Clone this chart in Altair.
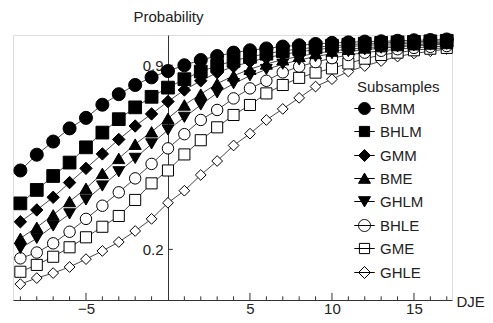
import altair as alt
import pandas as pd

x_vals = list(range(-9, 18))
series_names = ["BMM", "BHLM", "GMM", "BME", "GHLM", "BHLE", "GME", "GHLE"]

bmm = [0.50, 0.56, 0.61, 0.66, 0.70, 0.75, 0.79, 0.825, 0.854, 0.878, 0.90, 0.92, 0.935, 0.948,
       0.957, 0.964, 0.971, 0.976, 0.981, 0.985, 0.987, 0.99, 0.991, 0.993, 0.995, 0.996, 0.998]
bhlm = [0.375, 0.426, 0.479, 0.53, 0.588, 0.644, 0.695, 0.74, 0.78, 0.815, 0.847, 0.876, 0.898, 0.917,
        0.932, 0.944, 0.954, 0.962, 0.968, 0.974, 0.978, 0.982, 0.985, 0.987, 0.989, 0.991, 0.993]
gmm = [0.305, 0.35, 0.398, 0.454, 0.508, 0.563, 0.618, 0.669, 0.715, 0.762, 0.806, 0.841, 0.872, 0.895,
       0.913, 0.928, 0.941, 0.951, 0.959, 0.966, 0.971, 0.975, 0.979, 0.982, 0.984, 0.986, 0.988]
bme = [0.242, 0.284, 0.331, 0.382, 0.432, 0.489, 0.546, 0.60, 0.647, 0.698, 0.749, 0.79, 0.83, 0.86,
       0.885, 0.905, 0.921, 0.934, 0.945, 0.954, 0.961, 0.966, 0.971, 0.975, 0.978, 0.981, 0.983]
ghlm = [0.204, 0.242, 0.289, 0.335, 0.388, 0.441, 0.495, 0.546, 0.601, 0.654, 0.702, 0.749, 0.795, 0.83,
        0.86, 0.884, 0.904, 0.92, 0.933, 0.944, 0.952, 0.959, 0.965, 0.97, 0.974, 0.977, 0.98]
bhle = [0.166, 0.188, 0.223, 0.267, 0.316, 0.366, 0.417, 0.47, 0.525, 0.584, 0.638, 0.692, 0.73, 0.774,
        0.812, 0.841, 0.873, 0.895, 0.912, 0.927, 0.939, 0.948, 0.955, 0.961, 0.966, 0.97, 0.973]
gme = [0.115, 0.141, 0.172, 0.208, 0.246, 0.286, 0.327, 0.388, 0.451, 0.50, 0.561, 0.615, 0.664, 0.711,
       0.749, 0.793, 0.825, 0.852, 0.872, 0.888, 0.907, 0.925, 0.939, 0.948, 0.957, 0.963, 0.966]
ghle = [0.068, 0.091, 0.110, 0.133, 0.163, 0.194, 0.228, 0.27, 0.316, 0.377, 0.423, 0.483, 0.536, 0.595,
        0.64, 0.692, 0.734, 0.776, 0.819, 0.847, 0.876, 0.897, 0.916, 0.933, 0.945, 0.953, 0.962]

all_series = [bmm, bhlm, gmm, bme, ghlm, bhle, gme, ghle]

plot_shapes = ["circle", "square", "diamond", "triangle-up", "triangle-down", "circle", "square", "diamond"]
fills = ["#000000"] * 5 + ["#ffffff"] * 3
strokes = ["#000000"] * 8
sizes = [170, 115, 150, 130, 130, 140, 100, 75]

legend_shapes = [
    "M-1.7,0H1.7M1,0A1,1,0,1,1,-1,0A1,1,0,1,1,1,0Z",
    "M-1.7,0H1.7M-0.85,-0.85H0.85V0.85H-0.85Z",
    "M-1.7,0H1.7M0,-1L1,0L0,1L-1,0Z",
    "M-1.7,0H1.7M0,-0.9L1,0.8L-1,0.8Z",
    "M-1.7,0H1.7M0,0.9L1,-0.8L-1,-0.8Z",
    "M-1.7,0H1.7M1,0A1,1,0,1,1,-1,0A1,1,0,1,1,1,0Z",
    "M-1.7,0H1.7M-0.85,-0.85H0.85V0.85H-0.85Z",
    "M-1.7,0H1.7M0,-1L1,0L0,1L-1,0Z",
]

x_minor_ticks = [v for v in range(-9, 18) if v % 5 != 0]
x_major_ticks = [-5, 5, 10, 15]
y_ticks = [0.2, 0.9]

rows = []
for name, vals in zip(series_names, all_series):
    for x, v in zip(x_vals, vals):
        rows.append({"DJE": x, "Probability": v, "Subsamples": name})
df = pd.DataFrame(rows)
df_points = pd.concat([df[df.Subsamples == n] for n in reversed(series_names)])

FONT = "Liberation Sans"
TXT = "#222222"
AX = "#333333"

Y_MIN = 0.0076
xscale = alt.Scale(domain=[-9.45, 17.32], nice=False, zero=False)
yscale = alt.Scale(domain=[Y_MIN, 1.015], nice=False, zero=False)

xaxis = alt.Axis(orient="bottom", values=x_major_ticks, ticks=False, tickSize=0, grid=False,
                 labelPadding=1, labelFontSize=15, labelFont=FONT, labelColor=TXT,
                 domainColor=AX, domainWidth=1,
                 title="DJE", titleFont=FONT, titleFontSize=15, titleFontWeight="normal",
                 titleColor=TXT, titleX=443, titleY=1, titleAlign="left", titleBaseline="middle")
yaxis = alt.Axis(orient="left", offset=-155, values=y_ticks, ticks=False, tickSize=0, grid=False,
                 format=".1f", labelPadding=5, labelFontSize=15, labelFont=FONT, labelColor=TXT,
                 domainColor=AX, domainWidth=1,
                 title="Probability", titleFont=FONT, titleFontSize=15, titleFontWeight="normal",
                 titleColor=TXT, titleAngle=0, titleX=0, titleY=-19, titleAlign="center",
                 titleBaseline="middle")

lines = alt.Chart(df).mark_line(color="#333333", strokeWidth=0.9).encode(
    x=alt.X("DJE:Q", scale=xscale, axis=xaxis),
    y=alt.Y("Probability:Q", scale=yscale, axis=yaxis),
    detail="Subsamples:N",
)

points = alt.Chart(df_points).mark_point(filled=True, stroke="#000000", strokeWidth=1, opacity=1).encode(
    x=alt.X("DJE:Q", scale=xscale),
    y=alt.Y("Probability:Q", scale=yscale),
    shape=alt.Shape("Subsamples:N", scale=alt.Scale(domain=series_names, range=plot_shapes), legend=None),
    fill=alt.Fill("Subsamples:N", scale=alt.Scale(domain=series_names, range=fills), legend=None),
    size=alt.Size("Subsamples:N", scale=alt.Scale(domain=series_names, range=sizes), legend=None),
)


def make_legend():
    return alt.Legend(
        title="Subsamples", orient="none", legendX=344, legendY=45,
        titleFont=FONT, titleFontSize=15, titleFontWeight="normal", titleColor=TXT,
        titlePadding=6, labelFont=FONT, labelFontSize=15, labelColor=TXT, labelOffset=8,
        symbolSize=144, symbolStrokeWidth=1, rowPadding=7,
    )


legend_layer = alt.Chart(df).transform_filter("datum.DJE > 1000").mark_point(
    filled=False, strokeWidth=1, opacity=1
).encode(
    x=alt.X("DJE:Q", scale=xscale),
    y=alt.Y("Probability:Q", scale=yscale),
    shape=alt.Shape("Subsamples:N", scale=alt.Scale(domain=series_names, range=legend_shapes),
                    legend=make_legend()),
    fill=alt.Fill("Subsamples:N", scale=alt.Scale(domain=series_names, range=fills),
                  legend=make_legend()),
    stroke=alt.Stroke("Subsamples:N", scale=alt.Scale(domain=series_names, range=strokes),
                      legend=make_legend()),
)

xminor = alt.Chart(pd.DataFrame({"t": x_minor_ticks})).mark_rule(color=AX, strokeWidth=1).encode(
    x=alt.X("t:Q", scale=xscale), y=alt.datum(Y_MIN, scale=yscale), y2=alt.datum(Y_MIN + 0.014)
)
xmajor = alt.Chart(pd.DataFrame({"t": x_major_ticks})).mark_rule(color=AX, strokeWidth=1).encode(
    x=alt.X("t:Q", scale=xscale), y=alt.datum(Y_MIN, scale=yscale), y2=alt.datum(Y_MIN + 0.027)
)
ytick = alt.Chart(pd.DataFrame({"t": y_ticks})).mark_rule(color=AX, strokeWidth=1).encode(
    y=alt.Y("t:Q", scale=yscale), x=alt.datum(0, scale=xscale), x2=alt.datum(0.3)
)

chart = alt.layer(lines, xminor, xmajor, ytick, points, legend_layer).resolve_scale(
    shape="independent", fill="independent", size="independent", stroke="independent"
).properties(
    width=439, height=265,
    autosize=alt.AutoSizeParams(type="none"),
    padding={"left": 5, "top": 27, "right": 33, "bottom": 15},
).configure_view(stroke=None).configure(background="white")

chart.save("out.html", embed_options={"renderer": "svg", "actions": False})
